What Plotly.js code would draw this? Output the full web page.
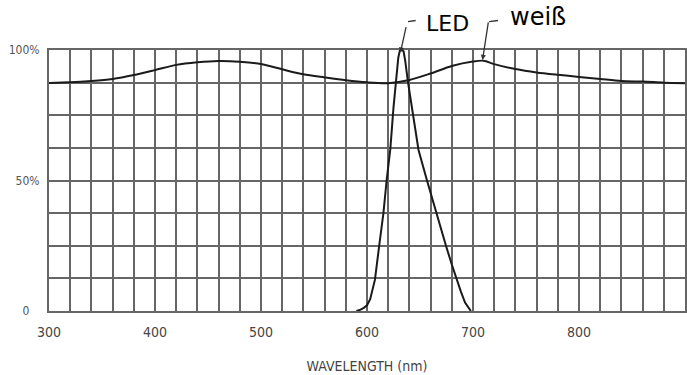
<!DOCTYPE html>
<html>
<head>
<meta charset="utf-8">
<script src="https://cdn.plot.ly/plotly-3.0.1.min.js"></script>
<style>html,body{margin:0;padding:0;background:#fff;}#chart{width:687px;height:375px;}</style>
</head>
<body>
<div id="chart"></div>
<script>
// White light spectrum ("weiß")
const whiteWavelength = [300,320,340,360,380,400,420,440,460,480,500,520,540,560,580,600,620,640,660,680,700,710,720,740,760,780,800,820,840,860,880,900];
const whiteValue      = [87.4,87.6,88.1,88.9,90.4,92.3,94.3,95.3,95.8,95.5,94.6,92.6,90.7,89.5,88.4,87.6,87.3,88.5,91.0,93.9,95.6,95.9,94.6,92.7,91.4,90.5,89.7,88.9,88.1,87.9,87.5,87.3];

// Red LED spectrum
const ledWavelength = [590,594,597,600,603,607.5,611.5,615.5,618.5,622,625,627.5,629.5,631,633,634.5,636,638.7,644,648.6,656.6,665.4,674.5,680,684,688.5,692.5,695.5,698];
const ledValue      = [0,0.5,1.2,2.2,4.5,12,25,37.5,50,62,78,90,97,99.8,100,99.5,96,87.6,74,61.7,50,37.5,25,17.8,12.5,7.5,3.2,1.2,0];

// Axis ticks
const xTickVals = [300,400,500,600,700,800,900];
const xTickText = ['300','400','500','600','700','800','900'];
const yTickVals = [0,50,100];
const yTickText = ['0&nbsp;&nbsp;&nbsp;','50%','100%'];

const labelLED = 'LED';
const labelWhite = 'weiß';
const xTitle = 'WAVELENGTH (nm)';

const ledPeakIdx = ledValue.indexOf(Math.max(...ledValue));
const whitePeakIdx = whiteWavelength.indexOf(710);

const gridCol = '#666666';
const tickFontFam = '"DejaVu Sans Condensed", "Liberation Sans Narrow", sans-serif';
const traces = [
  {x: whiteWavelength, y: whiteValue, type: 'scatter', mode: 'lines',
   line: {color: '#1a1a1a', width: 2, shape: 'spline', smoothing: 0.8}, hoverinfo: 'skip'},
  {x: ledWavelength, y: ledValue, type: 'scatter', mode: 'lines',
   line: {color: '#1a1a1a', width: 2, shape: 'linear'}, hoverinfo: 'skip'}
];

const layout = {
  width: 687, height: 375,
  margin: {l: 49, r: 2, t: 50, b: 64},
  paper_bgcolor: '#ffffff', plot_bgcolor: '#ffffff',
  showlegend: false,
  font: {family: tickFontFam, color: '#444'},
  xaxis: {
    range: [300, 900], tickmode: 'array', tickvals: xTickVals, ticktext: xTickText,
    showgrid: true, gridcolor: gridCol, gridwidth: 2,
    minor: {dtick: 20, tick0: 300, showgrid: true, gridcolor: gridCol, gridwidth: 2, ticks: ''},
    showline: true, linecolor: gridCol, linewidth: 2, mirror: true,
    ticks: 'outside', ticklen: 7, tickcolor: 'rgba(0,0,0,0)',
    tickfont: {size: 14, color: '#444', family: tickFontFam},
    zeroline: false, fixedrange: true,
    title: {text: xTitle, standoff: 22, font: {size: 14, color: '#444', family: tickFontFam}}
  },
  yaxis: {
    range: [0, 100], tickmode: 'array', tickvals: yTickVals, ticktext: yTickText,
    showgrid: true, gridcolor: gridCol, gridwidth: 2,
    minor: {dtick: 12.5, tick0: 0, showgrid: true, gridcolor: gridCol, gridwidth: 2, ticks: ''},
    showline: true, linecolor: gridCol, linewidth: 2, mirror: true,
    ticks: 'outside', ticklen: 5, tickcolor: 'rgba(0,0,0,0)',
    tickfont: {size: 12, color: '#555', family: tickFontFam},
    zeroline: false, fixedrange: true
  },
  annotations: [
    {x: ledWavelength[ledPeakIdx] - 1.5, y: ledValue[ledPeakIdx] - 1, xref: 'x', yref: 'y', text: '',
     showarrow: true, ax: 6, ay: -27, arrowhead: 2, arrowsize: 0.8, arrowwidth: 1.3, arrowcolor: '#333'},
    {x: whiteWavelength[whitePeakIdx] - 1, y: whiteValue[whitePeakIdx] + 0.3, xref: 'x', yref: 'y', text: '',
     showarrow: true, ax: 6, ay: -39, arrowhead: 2, arrowsize: 0.8, arrowwidth: 1.3, arrowcolor: '#333'},
    {x: 0.589, y: 1.103, xref: 'paper', yref: 'paper', xanchor: 'left', yanchor: 'middle',
     text: labelLED, showarrow: false, font: {family: '"DejaVu Sans", sans-serif', size: 22, color: '#000'}},
    {x: 0.722, y: 1.125, xref: 'paper', yref: 'paper', xanchor: 'left', yanchor: 'middle',
     text: labelWhite, showarrow: false, font: {family: '"DejaVu Sans", sans-serif', size: 24, color: '#000'}}
  ],
  shapes: [
    {type: 'line', xref: 'paper', yref: 'paper', x0: 0.5645, y0: 1.1084, x1: 0.5765, y1: 1.1130,
     line: {color: '#333', width: 1.3}},
    {type: 'line', xref: 'paper', yref: 'paper', x0: 0.6920, y0: 1.1084, x1: 0.7060, y1: 1.1130,
     line: {color: '#333', width: 1.3}}
  ]
};

Plotly.newPlot('chart', traces, layout, {staticPlot: true, displayModeBar: false});
</script>
</body>
</html>
